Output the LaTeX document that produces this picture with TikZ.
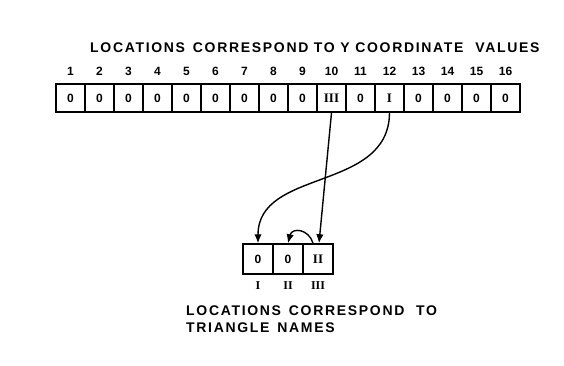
\documentclass[tikz,border=0pt]{standalone}
\usepackage{fontspec}
\setmainfont{Liberation Sans}
\newfontfamily\labfont[LetterSpace=12]{Liberation Sans Bold}
\newfontfamily\numfont{Liberation Sans Bold}
\newfontfamily\romfont{Liberation Serif Bold}
\usetikzlibrary{arrows.meta}
\begin{document}
\begin{tikzpicture}[x=1pt,y=-1pt,
  cellbox/.style={draw,line width=1.5pt,minimum width=29pt,minimum height=28pt,inner sep=0pt,font=\numfont\fontsize{12}{12}\selectfont},
  smallbox/.style={draw,line width=1.5pt,minimum width=30pt,minimum height=30pt,inner sep=0pt,font=\numfont\fontsize{12}{12}\selectfont},
  numlab/.style={font=\numfont\fontsize{12}{12}\selectfont,inner sep=0pt},
  romlab/.style={font=\romfont\fontsize{12}{12}\selectfont,inner sep=0pt},
  caption/.style={font=\labfont\fontsize{14}{14}\selectfont,inner sep=0pt,anchor=west},
  arr/.style={line width=1.4pt,-{Latex[length=9pt,width=7.5pt]}}]
\useasboundingbox (0,0) rectangle (564,366);
\node[caption] (title) at (90,48) {LOCATIONS\, CORRESPOND TO Y COORDINATE\;\, VALUES};
\foreach \i in {1,...,16}{
  \node[numlab] (n\i) at ({56+29*(\i-0.5)},71) {\i};
}
\foreach \i in {1,...,9}{
  \node[cellbox] (t\i) at ({56+29*(\i-0.5)},98) {0};
}
\node[cellbox,font=\romfont\fontsize{13}{13}\selectfont] (t10) at ({56+29*9.5},98) {III};
\node[cellbox] (t11) at ({56+29*10.5},98) {0};
\node[cellbox,font=\romfont\fontsize{13}{13}\selectfont] (t12) at ({56+29*11.5},98) {I};
\foreach \i in {13,...,16}{
  \node[cellbox] (t\i) at ({56+29*(\i-0.5)},98) {0};
}
\node[smallbox] (b1) at (258,259) {0};
\node[smallbox] (b2) at (288,259) {0};
\node[smallbox,font=\romfont\fontsize{13}{13}\selectfont] (b3) at (318,259) {II};
\node[romlab] (r1) at (258,286) {I};
\node[romlab] (r2) at (288,286) {II};
\node[romlab] (r3) at (318,286) {III};
\node[caption] (cap1) at (186,311) {LOCATIONS\, CORRESPOND\;\, TO};
\node[caption] (cap2) at (186,328) {TRIANGLE\, NAMES};
\draw[arr] (t10.south) -- ([xshift=1pt]b3.north);
\draw[arr] (t12.south) .. controls (389,192) and (258,168) .. (b1.north);
\draw[arr] ([xshift=-5pt]b3.north) .. controls (309,229) and (292,227) .. (b2.north);
\end{tikzpicture}
\end{document}
